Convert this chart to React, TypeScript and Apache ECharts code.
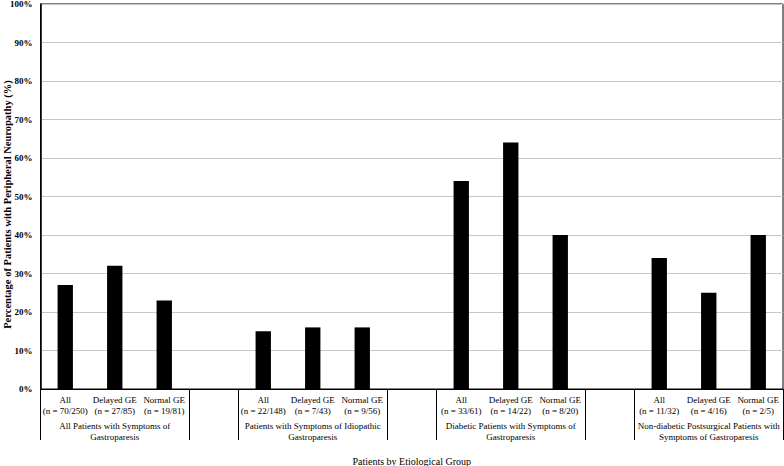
import React, { useEffect, useRef } from "react";
import * as echarts from "echarts";

const barLabels = [
  "All\n(n = 70/250)", "Delayed GE\n(n = 27/85)", "Normal GE\n(n = 19/81)", "",
  "All\n(n = 22/148)", "Delayed GE\n(n = 7/43)", "Normal GE\n(n = 9/56)", "",
  "All\n(n = 33/61)", "Delayed GE\n(n = 14/22)", "Normal GE\n(n = 8/20)", "",
  "All\n(n = 11/32)", "Delayed GE\n(n = 4/16)", "Normal GE\n(n = 2/5)",
];
const groupLabels = [
  "", "All Patients with Symptoms of\nGastroparesis", "", "",
  "", "Patients with Symptoms of Idiopathic\nGastroparesis", "", "",
  "", "Diabetic Patients with Symptoms of\nGastroparesis", "", "",
  "", "Non-diabetic Postsurgical Patients with\nSymptoms of Gastroparesis", "",
];
const values: (number | string)[] = [
  27, 32, 23, "-",
  15, 16, 16, "-",
  54, 64, 40, "-",
  34, 25, 40,
];
const separatorIndices = [0, 3, 4, 7, 8, 11, 12, 15];

const FONT = "'Liberation Serif', 'Times New Roman', serif";

export default function App() {
  const ref = useRef<HTMLDivElement>(null);
  useEffect(() => {
    if (!ref.current) return;
    const chart = echarts.init(ref.current, undefined, { renderer: "svg" });
    chart.setOption({
      animation: false,
      backgroundColor: "#fff",
      grid: {
        left: 40.5,
        right: 1,
        top: 4,
        bottom: 77,
        show: true,
        borderColor: "#000",
        borderWidth: 1,
        containLabel: false,
        outerBoundsMode: "none",
      },
      xAxis: [
        {
          type: "category",
          data: barLabels,
          position: "bottom",
          name: "Patients by Etiological Group",
          nameLocation: "middle",
          nameGap: 67,
          nameMoveOverlap: false,
          nameTextStyle: { fontFamily: FONT, fontSize: 10, color: "#000" },
          axisLine: { show: true, lineStyle: { color: "#000", width: 1 } },
          axisTick: {
            show: true,
            length: 51,
            interval: (index: number) => separatorIndices.includes(index),
            lineStyle: { color: "#000", width: 1 },
          },
          axisLabel: {
            interval: 0,
            margin: 6,
            fontFamily: FONT,
            fontSize: 9,
            lineHeight: 10.5,
            color: "#000",
          },
        },
        {
          type: "category",
          data: groupLabels,
          position: "bottom",
          axisLine: { show: false },
          axisTick: { show: false },
          axisLabel: {
            interval: 0,
            margin: 32,
            fontFamily: FONT,
            fontSize: 9,
            lineHeight: 10.5,
            color: "#000",
          },
        },
      ],
      yAxis: {
        type: "value",
        min: 0,
        max: 100,
        interval: 10,
        name: "Percentage of Patients with Peripheral Neuropathy (%)",
        nameLocation: "middle",
        nameGap: 28,
        nameMoveOverlap: false,
        nameTextStyle: {
          fontFamily: FONT,
          fontSize: 10.5,
          fontWeight: "bold",
          color: "#000",
          padding: [0, 16, 0, 0],
        },
        axisLine: { show: true, lineStyle: { color: "#000", width: 1.5 } },
        axisTick: { show: false },
        splitLine: { lineStyle: { color: "#c8c8c8", width: 1 } },
        axisLabel: {
          formatter: "{value}%",
          margin: 8,
          fontFamily: FONT,
          fontSize: 9,
          fontWeight: "bold",
          color: "#000",
        },
      },
      series: [
        {
          type: "bar",
          data: values,
          barWidth: "31%",
          itemStyle: { color: "#000" },
        },
      ],
    });
    return () => chart.dispose();
  }, []);
  return (
    <div
      ref={ref}
      style={{ position: "fixed", left: 0, top: 0, width: 784, height: 466 }}
    />
  );
}
